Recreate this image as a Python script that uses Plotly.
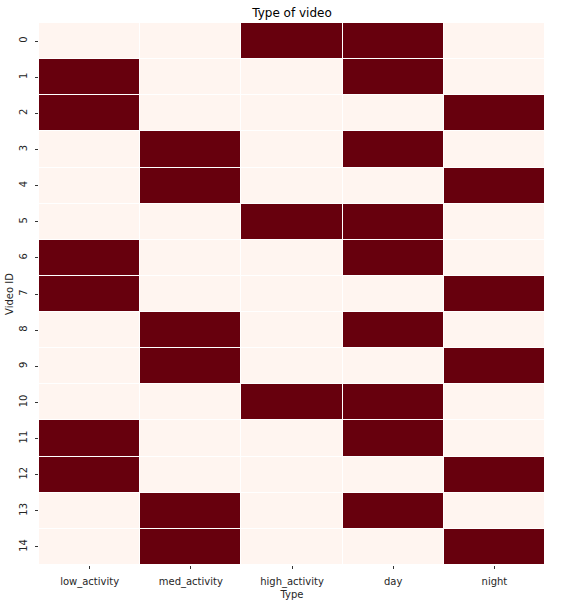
import plotly.graph_objects as go

types = ["low_activity", "med_activity", "high_activity", "day", "night"]
video_ids = [str(i) for i in range(15)]
low_activity = [0, 1, 1, 0, 0, 0, 1, 1, 0, 0, 0, 1, 1, 0, 0]
med_activity = [0, 0, 0, 1, 1, 0, 0, 0, 1, 1, 0, 0, 0, 1, 1]
high_activity = [1, 0, 0, 0, 0, 1, 0, 0, 0, 0, 1, 0, 0, 0, 0]
day = [1, 1, 0, 1, 0, 1, 1, 0, 1, 0, 1, 1, 0, 1, 0]
night = [0, 0, 1, 0, 1, 0, 0, 1, 0, 1, 0, 0, 1, 0, 1]

cols = [low_activity, med_activity, high_activity, day, night]
z = [[c[i] for c in cols] for i in range(len(video_ids))]

fig = go.Figure(go.Heatmap(
    z=z, x=types, y=video_ids,
    colorscale=[[0, "#fff5f0"], [1, "#67000d"]],
    zmin=0, zmax=1, showscale=False, xgap=1, ygap=1,
))
font = "DejaVu Sans"
fig.update_layout(
    width=564, height=605,
    margin=dict(l=39, r=19, t=23, b=40),
    paper_bgcolor="white", plot_bgcolor="white",
    font=dict(family=font, size=10, color="#262626"),
    title=dict(text="Type of video", x=0.5, xanchor="center", y=1 - 13 / 605, yanchor="middle",
               xref="paper", font=dict(size=12, color="black")),
)
fig.update_xaxes(title=dict(text="Type", standoff=3, font=dict(size=10)), ticks="outside", ticklen=3,
                 tickcolor="#333", showgrid=False, zeroline=False, ticklabelstandoff=4,
                 automargin=False)
fig.update_yaxes(title=dict(text="Video ID", standoff=2, font=dict(size=10)), autorange="reversed",
                 ticks="outside", ticklen=3, tickcolor="#333", tickangle=-90,
                 showgrid=False, zeroline=False, ticklabelstandoff=4, automargin=False)
fig.write_html("out.html")
